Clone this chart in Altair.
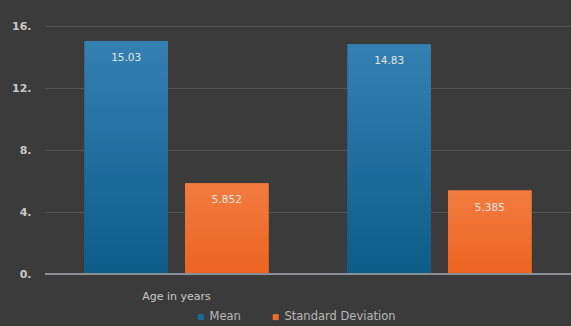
import altair as alt
import pandas as pd

groups = ["Age in years", " "]
series = ["Mean", "Standard Deviation"]
mean_vals = [15.03, 14.83]
sd_vals = [5.852, 5.385]
mean_labels = ["15.03", "14.83"]
sd_labels = ["5.852", "5.385"]

rows = []
for i, g in enumerate(groups):
    rows.append({"group": g, "series": "Mean", "value": mean_vals[i], "label": mean_labels[i]})
    rows.append({"group": g, "series": "Standard Deviation", "value": sd_vals[i], "label": sd_labels[i]})
df = pd.DataFrame(rows)

font = "DejaVu Sans"
blue, orange = "#1a6a96", "#f06c2a"

x = alt.X("group:N", sort=groups,
          scale=alt.Scale(paddingInner=0.3, paddingOuter=0.15),
          axis=alt.Axis(title=None, labelAngle=0, labelColor="#c8c8c8", labelFontSize=11,
                        labelPadding=16, ticks=False, domain=False, labelFont=font))
xo = alt.XOffset("series:N", sort=series,
                 scale=alt.Scale(domain=series, paddingInner=0.17, paddingOuter=0))
y = alt.Y("value:Q", scale=alt.Scale(domain=[0, 16]),
          axis=alt.Axis(title=None, values=[0, 4, 8, 12, 16], labelExpr="datum.label + '.'",
                        labelAlign="right", labelPadding=14, labelColor="#c8c8c8", labelFontSize=11,
                        labelFontWeight="bold", ticks=False, domain=False, labelFont=font,
                        gridColor="#545454", gridWidth=1))

bars = alt.Chart(df).mark_bar().encode(
    x=x, xOffset=xo, y=y,
    color=alt.Color("series:N", sort=series,
                    scale=alt.Scale(domain=series, range=[blue, orange]),
                    legend=alt.Legend(title=None, orient="none", direction="horizontal",
                                      legendX=150, legendY=285, symbolType="square",
                                      symbolSize=36, symbolStrokeWidth=0,
                                      labelColor="#b8b8b8", labelFontSize=11.5, labelFont=font,
                                      columnPadding=29, labelOffset=3))
)

def grad(top, bottom):
    return alt.Gradient(gradient="linear", x1=0, x2=0, y1=0, y2=1,
                        stops=[alt.GradientStop(color=top, offset=0),
                               alt.GradientStop(color=bottom, offset=1)])

mean_over = alt.Chart(df).transform_filter(alt.datum.series == "Mean").mark_bar(
    color=grad("#3580b2", "#0c5c88")).encode(
    x=alt.X("group:N", sort=groups), xOffset=alt.XOffset("series:N", sort=series), y="value:Q")
sd_over = alt.Chart(df).transform_filter(alt.datum.series == "Standard Deviation").mark_bar(
    color=grad("#f27c40", "#ec6420")).encode(
    x=alt.X("group:N", sort=groups), xOffset=alt.XOffset("series:N", sort=series), y="value:Q")

text = alt.Chart(df).mark_text(baseline="middle", dy=17, color="#e4e4e4", fontSize=10.5, font=font).encode(
    x=alt.X("group:N", sort=groups), xOffset=alt.XOffset("series:N", sort=series),
    y="value:Q", text="label:N"
)

zero = alt.Chart(df).mark_rule(color="#8a9096", strokeWidth=2).encode(y=alt.datum(0))

chart = alt.layer(bars, mean_over, sd_over, zero, text).properties(
    width=526, height=248,
    padding={"left": 45, "top": 26, "right": 0, "bottom": 52},
    autosize=alt.AutoSizeParams(type="none"),
    background="#3b3b3b",
).configure_view(stroke=None)

chart.save("out.html", embed_options={"renderer": "svg", "actions": False})
